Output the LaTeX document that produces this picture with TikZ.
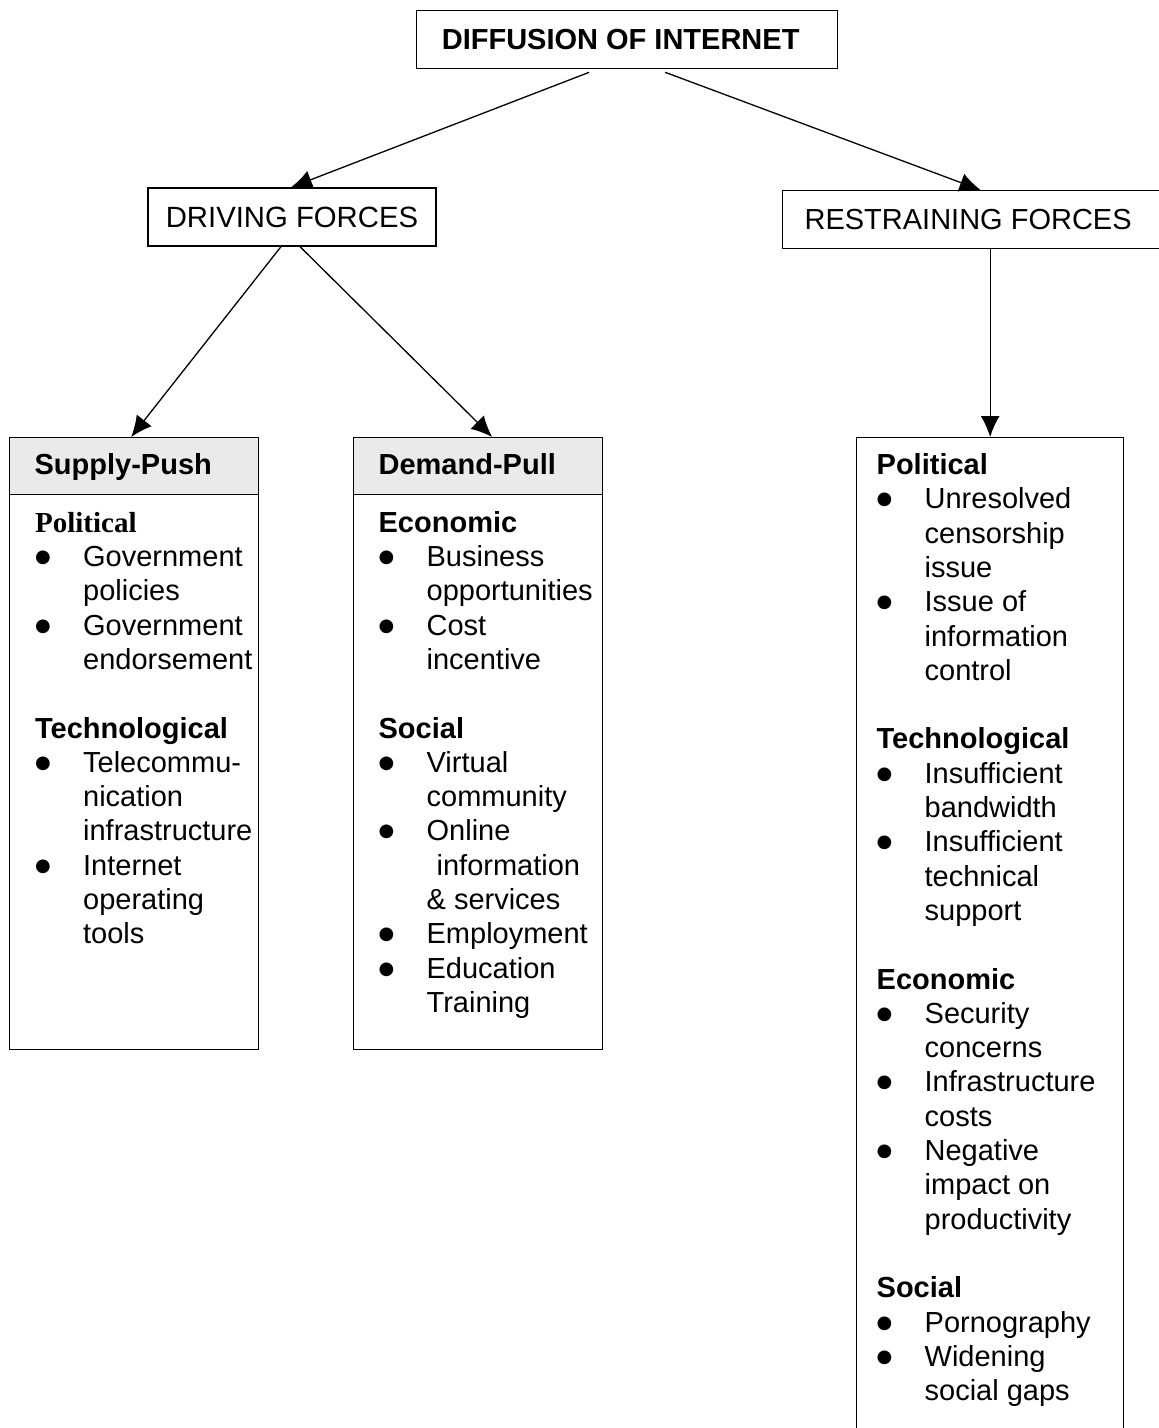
\documentclass[tikz,border=0pt]{standalone}
\usepackage{fontspec}
\setmainfont{Liberation Sans}
\newfontfamily\timesfont{Liberation Serif}
\newfontfamily\symfont{DejaVu Sans}
\usetikzlibrary{arrows.meta}
\definecolor{hdgray}{HTML}{EAEAEA}

\begin{document}
\begin{tikzpicture}[x=1pt,y=-1pt,>={Latex[length=21pt,width=19pt]},line width=1.3pt]

        \def\hd#1{\textbf{#1}}
        \def\bul#1{\makebox[48pt][l]{\raisebox{4pt}{\fontsize{18pt}{18pt}\selectfont\symfont ●}}#1}
        \def\cnt#1{\hspace*{48pt}#1}
        \tikzstyle{txt}=[font=\fontsize{29pt}{34.3pt}\selectfont, inner sep=0pt]
        \tikzstyle{forcebox}=[draw, txt, minimum height=58pt]
        \tikzstyle{colbox}=[draw, anchor=north west, inner sep=0pt, minimum width=249pt]
        \tikzstyle{hdbox}=[colbox, fill=hdgray, font=\fontsize{29pt}{34.3pt}\selectfont\bfseries, text width=199pt, align=left, minimum height=57pt, text height=20pt, text depth=4pt]
        \tikzstyle{listline}=[txt, anchor=base west]

        \useasboundingbox (0,0) rectangle (1159,1428);
        \clip (0,0) rectangle (1159,1428);

        \node (title) [draw, anchor=north west, minimum width=421pt, minimum height=58pt, inner sep=0pt, font=\fontsize{29pt}{34pt}\selectfont\bfseries] at (416,10) {DIFFUSION OF INTERNET\rule{13pt}{0pt}};
        \node (driving) [forcebox, minimum width=288pt, font=\fontsize{29.3pt}{34pt}\selectfont] at (292,217) {DRIVING FORCES};
        \node (restrain) [forcebox, minimum width=398pt, anchor=north west] at (782,190) {RESTRAINING FORCES\rule{27pt}{0pt}};

        \node (supply) [colbox, minimum height=612pt] at (9,437) {};
        \node (demand) [colbox, minimum height=612pt] at (353,437) {};
        \node (rbox) [colbox, minimum width=267pt, minimum height=1010pt] at (856,437) {};
        \node (supplyhd) [hdbox] at (9,437) {Supply-Push};
        \node (demandhd) [hdbox] at (353,437) {Demand-Pull};

        \draw[->] ([xshift=-38pt,yshift=-3pt]title.south) -- ([xshift=-1pt]driving.north);
        \draw[->] ([xshift=38pt,yshift=-3pt]title.south) -- ([xshift=-1pt]restrain.north);
        \draw[->] ([xshift=-11pt]driving.south) -- ([xshift=-3pt]supply.north);
        \draw[->] ([xshift=8pt]driving.south) -- ([xshift=14pt]demand.north);
        \draw[->] (restrain.south -| rbox.north) -- (rbox.north);

        % supply-push
        \foreach \t [count=\n from 0] in {{\timesfont\bfseries Political}, {\bul{Government}}, {\cnt{policies}},
            {\bul{Government}}, {\cnt{endorsement}}, {}, {\hd{Technological}}, {\bul{Telecommu-}}, {\cnt{nication}},
            {\cnt{infrastructure}}, {\bul{Internet}}, {\cnt{operating}}, {\cnt{tools}}}
            \node (sl\n) [listline] at (34.5,{532.2+34.3*\n}) {\t};

        % demand-pull
        \foreach \t [count=\n from 0] in {{\hd{Economic}}, {\bul{Business}}, {\cnt{opportunities}}, {\bul{Cost}},
            {\cnt{incentive}}, {}, {\hd{Social}}, {\bul{Virtual}}, {\cnt{community}}, {\bul{Online}},
            {\cnt{\hspace*{10pt}information}}, {\cnt{\& services}}, {\bul{Employment}}, {\bul{Education}}, {\cnt{Training}}}
            \node (dl\n) [listline] at (378,{532.2+34.3*\n}) {\t};

        % restraining
        \foreach \t [count=\n from 0] in {{\hd{Political}}, {\bul{Unresolved}}, {\cnt{censorship}}, {\cnt{issue}},
            {\bul{Issue of}}, {\cnt{information}}, {\cnt{control}}, {}, {\hd{Technological}}, {\bul{Insufficient}},
            {\cnt{bandwidth}}, {\bul{Insufficient}}, {\cnt{technical}}, {\cnt{support}}, {}, {\hd{Economic}},
            {\bul{Security}}, {\cnt{concerns}}, {\bul{Infrastructure}}, {\cnt{costs}}, {\bul{Negative}},
            {\cnt{impact on}}, {\cnt{productivity}}, {}, {\hd{Social}}, {\bul{Pornography}}, {\bul{Widening}},
            {\cnt{social gaps}}}
            \node (rl\n) [listline] at (876,{474.5+34.3*\n}) {\t};

\end{tikzpicture}
\end{document}
